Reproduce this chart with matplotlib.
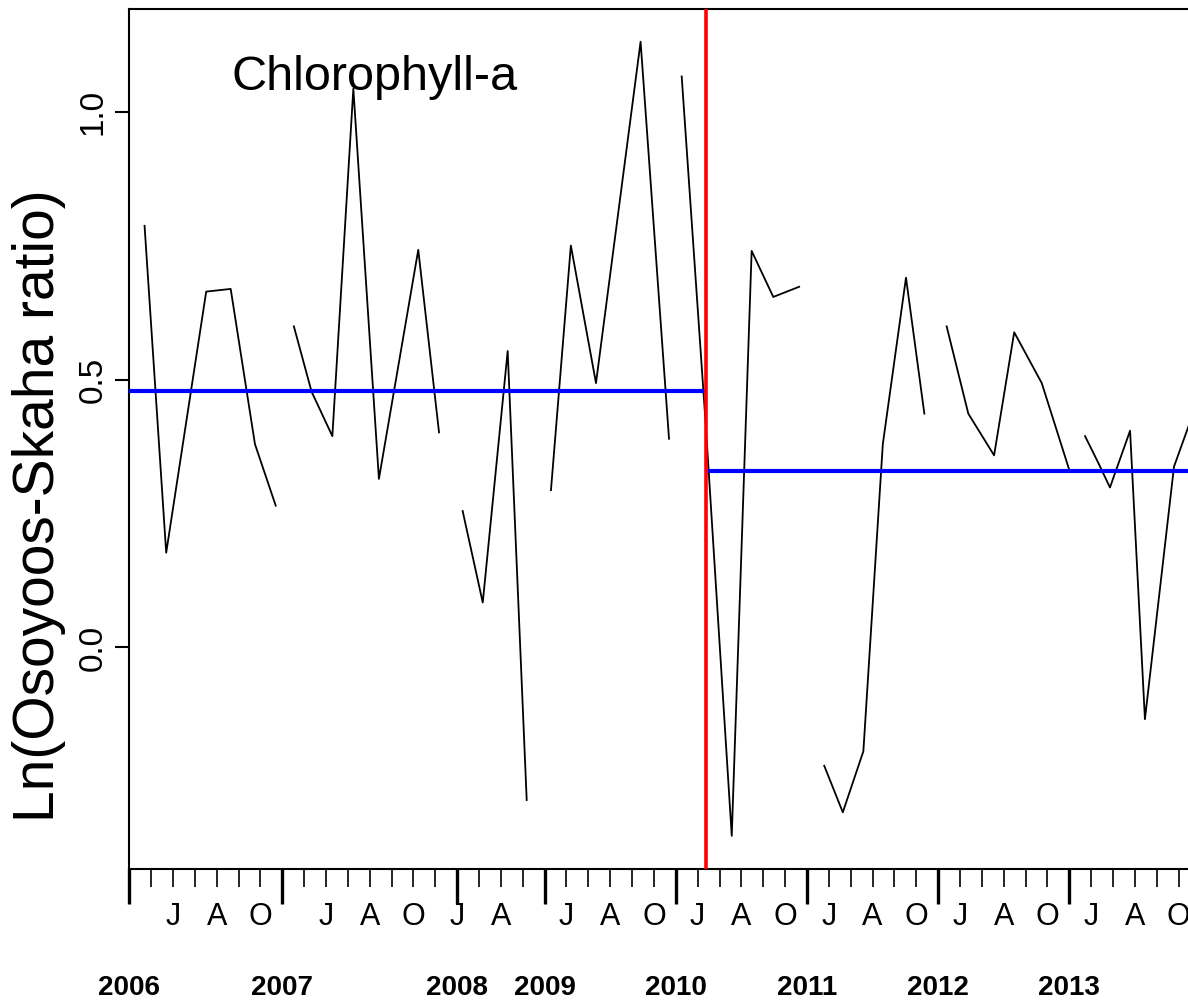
import numpy as np
import matplotlib
matplotlib.use("Agg")
import matplotlib.pyplot as plt

nan = np.nan

# ---- data (x = position along the sampling axis, one tick per sampled month) ----
x_pos = [0.70, 1.69, 3.52, 4.64, 5.75, 6.70, nan,
         7.53, 8.34, 9.29, 10.25, 11.42, 13.22, 14.17, nan,
         15.25, 16.17, 17.31, 18.18, nan,
         19.29, 20.20, 21.35, 23.39, 24.69, nan,
         25.27, 26.38, 27.56, 28.47, 29.46, 30.64, nan,
         31.79, 32.64, 33.58, 34.47, 35.53, 36.37, nan,
         37.39, 38.38, 39.56, 40.48, 41.74, 42.99, nan,
         43.72, 44.35, 44.86, 45.78, 46.46, 47.79, 48.60]
ln_ratio = [0.788, 0.177, 0.665, 0.670, 0.380, 0.265, nan,
            0.600, 0.478, 0.395, 1.044, 0.315, 0.743, 0.402, nan,
            0.255, 0.084, 0.554, -0.285, nan,
            0.294, 0.751, 0.494, 1.132, 0.390, nan,
            1.067, 0.410, -0.352, 0.741, 0.655, 0.674, nan,
            -0.221, -0.308, -0.194, 0.380, 0.691, 0.437, nan,
            0.600, 0.437, 0.359, 0.589, 0.494, 0.333, nan,
            0.395, 0.343, 0.299, 0.405, -0.134, 0.338, 0.430]

break_pos = 26.38
mean_before = 0.479
mean_after = 0.329

year_pos = [0, 7, 15, 19, 25, 31, 37, 43]
year_labels = ["2006", "2007", "2008", "2009", "2010", "2011", "2012", "2013"]
n_ticks = 49
month_J = [2, 9, 15, 20, 26, 32, 38, 44]
month_A = [4, 11, 17, 22, 28, 34, 40, 46]
month_O = [6, 13, 24, 30, 36, 42, 48]

y_ticks = [0.0, 0.5, 1.0]
y_ticklabels = ["0.0", "0.5", "1.0"]

title = "Chlorophyll-a"
ylabel = "Ln(Osoyoos-Skaha ratio)"

x_lim = (0, 48.43)
y_lim = (-0.414, 1.193)

# ---- figure ----
narrow = ["Liberation Sans Narrow", "Liberation Sans", "DejaVu Sans"]
regular = ["Liberation Sans", "DejaVu Sans"]

fig = plt.figure(figsize=(11.88, 10.05), dpi=100)
ax = fig.add_axes([0.1088, 0.1353, 0.8912, 0.8557])

ax.plot(x_pos, ln_ratio, color="black", lw=1.3, zorder=2)
ax.plot([x_lim[0], break_pos], [mean_before, mean_before], color="#0000FF", lw=3.0, zorder=3,
        solid_capstyle="butt")
ax.plot([break_pos, x_lim[1] + 1], [mean_after, mean_after], color="#0000FF", lw=3.0, zorder=3,
        solid_capstyle="butt")
ax.axvline(break_pos, color="#FF0000", lw=2.6, zorder=4)

ax.set_xlim(*x_lim)
ax.set_ylim(*y_lim)

for s in ["left", "top", "bottom"]:
    ax.spines[s].set_linewidth(1.5)
ax.spines["right"].set_visible(False)

# x axis: year ticks (major) and monthly sample ticks (minor)
ax.xaxis.remove_overlapping_locs = False
month_labels = [""] * n_ticks
for i in month_J:
    month_labels[i] = "J"
for i in month_A:
    month_labels[i] = "A"
for i in month_O:
    month_labels[i] = "O"
ax.set_xticks(year_pos, labels=year_labels)
ax.set_xticks(np.arange(n_ticks), labels=month_labels, minor=True)
for t in ax.get_xticklabels():
    t.set_fontfamily(narrow)
    t.set_fontweight("bold")
    t.set_fontsize(20)
for t in ax.get_xticklabels(minor=True):
    t.set_fontfamily(narrow)
    t.set_fontsize(22)
ax.tick_params(axis="x", which="major", length=25, width=2.4, pad=51, color="black")
ax.tick_params(axis="x", which="minor", length=13, width=1.2, pad=11, color="black")

# y axis
ax.set_yticks(y_ticks, labels=y_ticklabels)
ax.tick_params(axis="y", which="major", length=10, width=1.5, pad=5)
for t in ax.get_yticklabels():
    t.set_fontfamily(regular)
    t.set_fontsize(24)
    t.set_rotation(90)
    t.set_va("center")
    t.set_ha("right")

ax.set_ylabel(ylabel, fontfamily=regular, fontsize=41)
ax.yaxis.label.set_rotation_mode("default")
ax.yaxis.label.set_va("center")
ax.yaxis.label.set_ha("center")
ax.yaxis.set_label_coords(-0.0853, 0.423)

ax.text(0.2313, 0.906, title, transform=ax.transAxes, ha="center", va="baseline",
        fontfamily=narrow, fontsize=35)

fig.savefig("out.png", dpi=100)
